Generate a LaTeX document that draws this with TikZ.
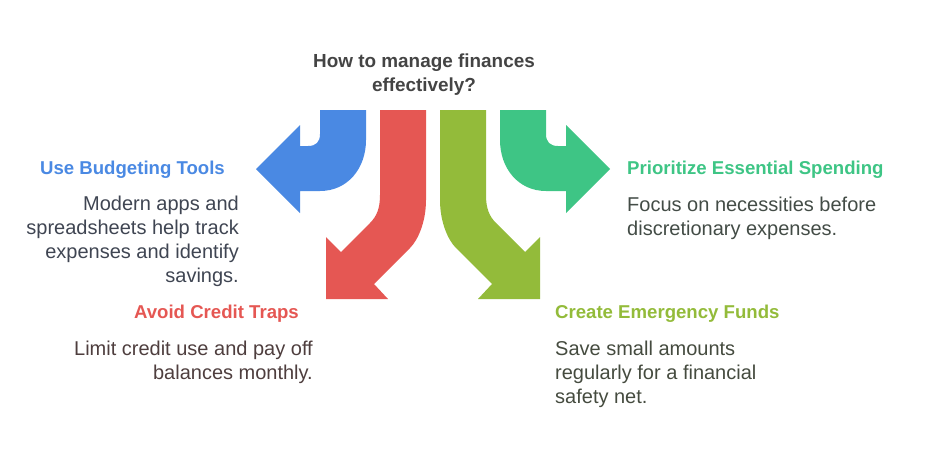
\documentclass[tikz,border=0pt]{standalone}
\usepackage{fontspec}
\setmainfont{Liberation Sans}
\definecolor{cblue}{HTML}{4A89E3}
\definecolor{cred}{HTML}{E55753}
\definecolor{colive}{HTML}{93BB3A}
\definecolor{cteal}{HTML}{3EC585}
\definecolor{tblue}{HTML}{3F4552}
\definecolor{tred}{HTML}{4E3E3E}
\definecolor{tteal}{HTML}{434C46}
\definecolor{tolive}{HTML}{454B3F}
\definecolor{ttitle}{HTML}{444444}
\tikzset{
  head/.style={inner sep=0pt, font=\fontsize{18.6}{24}\selectfont\bfseries},
  body/.style={inner sep=0pt, font=\fontsize{20}{24}\selectfont},
}
\begin{document}
\begin{tikzpicture}[x=1pt,y=-1pt]
\useasboundingbox (0,0) rectangle (938,458);
% blue arrow (left turn)
\fill[cblue] (320,110) -- (366,110) -- (366,140)
  .. controls (366,168) and (348,191) .. (320,191)
  -- (300,191) -- (300,213) -- (256,169) -- (300,125) -- (300,146) -- (308,146)
  .. controls (316,146) and (320,142) .. (320,134) -- cycle;
% teal arrow (right turn)
\fill[cteal] (546,110) -- (500,110) -- (500,140)
  .. controls (500,168) and (518,191) .. (546,191)
  -- (566,191) -- (566,213) -- (610,169) -- (566,125) -- (566,146) -- (558,146)
  .. controls (550,146) and (546,142) .. (546,134) -- cycle;
% red arrow (down-left)
\fill[cred] (380,110) -- (426,110) -- (426,200)
  .. controls (426,222) and (418,240) .. (410,248)
  -- (374,284) -- (388,299) -- (326,299) -- (326,237) -- (341,252) -- (370,223)
  .. controls (377,216) and (380,208) .. (380,195) -- cycle;
% olive arrow (down-right)
\fill[colive] (486,110) -- (440,110) -- (440,200)
  .. controls (440,222) and (448,240) .. (456,248)
  -- (492,284) -- (478,299) -- (540,299) -- (540,237) -- (525,252) -- (496,223)
  .. controls (489,216) and (486,208) .. (486,195) -- cycle;
% title
\node[head, font=\fontsize{18.9}{24}\selectfont\bfseries, text=ttitle, align=center, anchor=north] (title) at (424,53.2)
  {How to manage finances\\effectively?};
% blue
\node[head, text=cblue, anchor=north east] (bh) at (225,161.3) {Use Budgeting Tools};
\node[body, text=tblue, align=right, anchor=north east] (bb) at (239,196)
  {Modern apps and\\spreadsheets help track\\expenses and identify\\savings.};
% red
\node[head, text=cred, anchor=north east] (rh) at (299,305.3) {Avoid Credit Traps};
\node[body, text=tred, align=right, anchor=north east] (rb) at (313,341)
  {Limit credit use and pay off\\balances monthly.};
% teal
\node[head, text=cteal, anchor=north west] (th) at (627,161.3) {Prioritize Essential Spending};
\node[body, text=tteal, align=left, anchor=north west] (tb) at (627,197)
  {Focus on necessities before\\discretionary expenses.};
% olive
\node[head, text=colive, anchor=north west] (oh) at (555,305.3) {Create Emergency Funds};
\node[body, text=tolive, align=left, anchor=north west] (ob) at (555,341)
  {Save small amounts\\regularly for a financial\\safety net.};
\end{tikzpicture}
\end{document}
